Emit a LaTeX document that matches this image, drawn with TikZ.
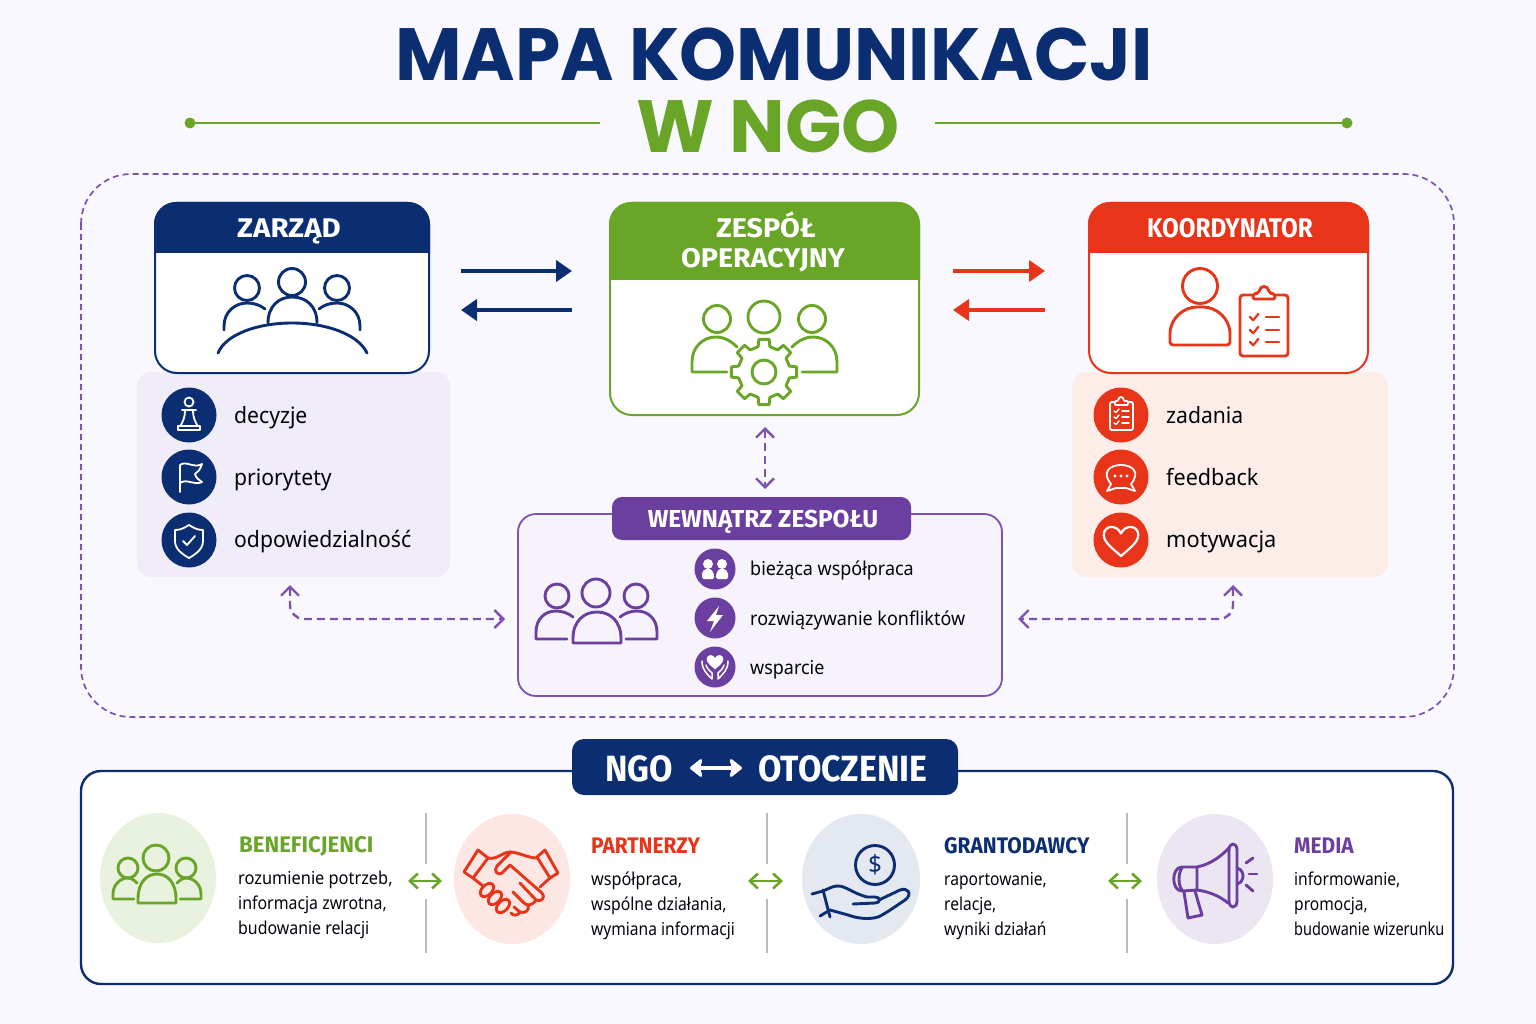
\documentclass[tikz,border=0pt]{standalone}
\usepackage{fontspec}
\setmainfont{Noto Sans}[FakeStretch=0.94]
\newfontfamily\headf{Fira Sans}[FakeStretch=0.93]
\newfontfamily\titlef{Poppins}
\newfontfamily\bodyf{Noto Sans}[FakeStretch=0.875]
\usetikzlibrary{arrows.meta,calc,shapes.geometric}
\definecolor{navy}{HTML}{0B2E73}
\definecolor{grn}{HTML}{69A627}
\definecolor{rd}{HTML}{E8351A}
\definecolor{pur}{HTML}{6B3FA0}
\definecolor{purl}{HTML}{7C52B3}
\definecolor{bgc}{HTML}{F9F8FE}
\definecolor{panL}{HTML}{F0EDF9}
\definecolor{panR}{HTML}{FDEDE8}
\definecolor{panW}{HTML}{F6F3FC}
\definecolor{sepc}{HTML}{B9BBBD}
\newcommand\fs[1]{\fontsize{#1}{#1}\selectfont}
\newcommand\hsc[2]{\scalebox{#1}[1]{#2}}
\newcommand\bust[5]{\draw[#1] ({#2-#4},#3) -- ({#2-#4},{#3-0.15*(#3-#5)}) .. controls ({#2-#4},{#5+0.3*(#3-#5)}) and ({#2-0.55*#4},#5) .. (#2,#5) .. controls ({#2+0.55*#4},#5) and ({#2+#4},{#5+0.3*(#3-#5)}) .. ({#2+#4},{#3-0.15*(#3-#5)}) -- ({#2+#4},#3) -- cycle;}
\newcommand\chk[4]{\draw[#1] ({#2-#4},#3) -- ({#2-0.2*#4},{#3+0.8*#4}) -- ({#2+1.1*#4},{#3-0.8*#4});}
\newcommand\heartp[5]{\draw[#1] (#2,{#3+#4}) .. controls ({#2-0.5*#4},{#3+0.55*#4}) and ({#2-1.15*#4},{#3+0.1*#4}) .. ({#2-1.15*#4},{#3-0.4*#4}) .. controls ({#2-1.15*#4},{#3-1.05*#4}) and ({#2-0.3*#4},{#3-1.15*#4}) .. (#2,{#3-0.5*#4}) .. controls ({#2+0.3*#4},{#3-1.15*#4}) and ({#2+1.15*#4},{#3-1.05*#4}) .. ({#2+1.15*#4},{#3-0.4*#4}) .. controls ({#2+1.15*#4},{#3+0.1*#4}) and ({#2+0.5*#4},{#3+0.55*#4}) .. (#2,{#3+#4}) -- cycle;}
\tikzset{
  x=1pt,y=-1pt,
  card/.style={draw=#1,line width=2pt,fill=white,rounded corners=22pt,inner sep=0,outer sep=0,anchor=north west},
  icon/.style={draw=#1,line width=2.9pt,line cap=round,line join=round},
  wicon/.style={draw=white,line width=1.8pt,line cap=round,line join=round},
  hd/.style={text=white,anchor=base,inner sep=0,font=\headf\bfseries\fs{27}},
  item/.style={text=black!90!navy,anchor=base west,inner sep=0,font=\fs{22.5}},
  pitem/.style={text=black!90!navy,anchor=base west,inner sep=0,font=\fs{19.1}},
  bhead/.style={text=#1,anchor=base west,inner sep=0,font=\headf\bfseries\fs{22.5}},
  bline/.style={text=black!90!navy,anchor=base west,inner sep=0,font=\bodyf\fs{17.8}},
  disc/.style={circle,fill=#1,minimum size=55pt,inner sep=0},
  pdisc/.style={circle,fill=pur,minimum size=41pt,inner sep=0},
  blob/.style={ellipse,fill=#1,inner sep=0},
  sep/.style={draw=sepc,line width=1.8pt},
  solidarr/.style={draw=#1,line width=4pt,-{Triangle[length=16pt,width=21pt]}},
  dasharr/.style={draw=purl,line width=2.4pt,dash pattern=on 8pt off 5pt,{Straight Barb[length=9pt,width=18pt,line width=2.4pt]}-{Straight Barb[length=9pt,width=18pt,line width=2.4pt]}},
  grarr/.style={draw=grn,line width=2.6pt,{Straight Barb[length=8pt,width=15pt,line width=2.6pt]}-{Straight Barb[length=8pt,width=15pt,line width=2.6pt]}},
}
\begin{document}
\begin{tikzpicture}
\useasboundingbox (0,0) rectangle (1536,1024);
\fill[bgc] (0,0) rectangle (1536,1024);
% title
\node[anchor=base,inner sep=0,text=navy,font=\titlef\bfseries\fs{74}] (title1) at (774,81) {\hsc{0.98}{MAPA KOMUNIKACJI}};
\node[anchor=base,inner sep=0,text=grn,font=\titlef\bfseries\fs{74}] (title2) at (768,153) {W NGO};
\coordinate (tl1) at (190,123); \coordinate (tl2) at (600,123);
\coordinate (tr1) at (935,123); \coordinate (tr2) at (1347,123);
\draw[grn,line width=2.2pt] (tl1) -- (tl2); \draw[grn,line width=2.2pt] (tr1) -- (tr2);
\fill[grn] (tl1) circle (5.5); \fill[grn] (tr2) circle (5.5);
% dashed frame
\draw[purl,line width=1.7pt,dash pattern=on 6pt off 4pt,rounded corners=50pt] (81,174) rectangle (1454,717);
% panels
\node[fill=panL,rounded corners=14pt,inner sep=0,outer sep=0,minimum width=313pt,minimum height=205pt,anchor=north west] (panL) at (137,372) {};
\node[fill=panR,rounded corners=14pt,inner sep=0,outer sep=0,minimum width=316pt,minimum height=205pt,anchor=north west] (panR) at (1072,372) {};
% cards
\node[card=navy,minimum width=274pt,minimum height=170pt] (zarzad) at (155,203) {};
\fill[navy] (154,253) [rounded corners=22pt] -- (154,202) -- (430,202) [sharp corners] -- (430,253) -- cycle;
\node[hd] (tz) at (289,238) {\hsc{1.17}{ZARZĄD}};
\node[card=grn,minimum width=309pt,minimum height=212pt] (zespol) at (610,203) {};
\fill[grn] (609,280) [rounded corners=22pt] -- (609,202) -- (920,202) [sharp corners] -- (920,280) -- cycle;
\node[hd] (tzo1) at (766,238) {\hsc{1.14}{ZESPÓŁ}};
\node[hd] (tzo2) at (763,268) {\hsc{1.14}{OPERACYJNY}};
\node[card=rd,minimum width=279pt,minimum height=170pt] (koord) at (1089,203) {};
\fill[rd] (1088,253) [rounded corners=22pt] -- (1088,202) -- (1369,202) [sharp corners] -- (1369,253) -- cycle;
\node[hd] (tk) at (1230,238) {\hsc{0.965}{KOORDYNATOR}};
% zarzad icon
\begin{scope}[icon=navy]
\draw (247,288) circle (12.5); \draw (292,282) circle (13.5); \draw (337,288) circle (12.5);
\draw (268,323) .. controls (268,306) and (279,297) .. (292,297) .. controls (306,297) and (317,306) .. (317,323);
\draw (224,330) -- (224,326) .. controls (224,312) and (235,303) .. (247,303) .. controls (254,303) and (260,305) .. (265,309);
\draw (360,330) -- (360,326) .. controls (360,312) and (349,303) .. (337,303) .. controls (330,303) and (324,305) .. (319,309);
\draw (218,353) .. controls (226,334) and (258,323) .. (292,323) .. controls (326,323) and (358,334) .. (367,353);
\end{scope}
% zespol icon
\begin{scope}[icon=grn]
\draw (717,319) circle (13.5); \draw (764,317) circle (16); \draw (812,319) circle (13.5);
\draw (727,372) -- (692,372) -- (692,362) .. controls (692,347) and (703,337) .. (716,337) .. controls (724,337) and (731,341) .. (737,347);
\draw (802,372) -- (837,372) -- (837,362) .. controls (837,347) and (826,337) .. (813,337) .. controls (805,337) and (798,341) .. (792,347);
\begin{scope}[shift={(764,372)}]
\draw ({-13}:26) \foreach \i in {0,...,7} { -- ({\i*45-13}:26) -- ({\i*45-9}:33) -- ({\i*45+9}:33) -- ({\i*45+13}:26) } -- cycle;
\draw (0,0) circle (12);
\end{scope}
\end{scope}
% koord icon
\begin{scope}[icon=rd]
\draw (1200,286) circle (17.5);
\draw[rounded corners=3pt] (1170,345) -- (1170,337) .. controls (1170,318) and (1184,307) .. (1200,307) .. controls (1216,307) and (1230,318) .. (1230,337) -- (1230,345) -- cycle;
\draw[rounded corners=3pt] (1240,295) rectangle (1288,356);
\draw[fill=white,rounded corners=2pt] (1253,299) -- (1253,294) -- (1259,293) .. controls (1260,285) and (1268,285) .. (1269,293) -- (1275,294) -- (1275,299) -- cycle;
\foreach \yy in {317,330,342}{
 \chk{icon=rd,line width=2.2pt}{1254}{\yy}{4}
 \draw (1266,\yy) -- (1279,\yy);}
\end{scope}
% left discs
\node[disc=navy] (d1) at (189,415) {};
\node[disc=navy] (d2) at (189,477) {};
\node[disc=navy] (d3) at (189,540) {};
\node[item] (i1) at (234,423) {decyzje};
\node[item] (i2) at (234,485) {priorytety};
\node[item] (i3) at (234,547) {odpowiedzialność};
\begin{scope}[wicon]
\draw (189,402) circle (4.5);
\draw (182,410) -- (196,410);
\draw (185,411) .. controls (185,417) and (183,421) .. (181,425);
\draw (193,411) .. controls (193,417) and (195,421) .. (197,425);
\draw (178,426) rectangle (200,430);
\draw (180,492) -- (180,465) .. controls (186,460) and (194,469) .. (202,464) .. controls (200,470) and (198,472) .. (195,474) .. controls (196,478) and (199,480) .. (202,482) .. controls (194,486) and (187,478) .. (180,483);
\draw (189,525) .. controls (183,529) and (179,530) .. (175,530) -- (175,541) .. controls (175,549) and (182,554) .. (189,558) .. controls (196,554) and (203,549) .. (203,541) -- (203,530) .. controls (199,530) and (195,529) .. (189,525) -- cycle;
\draw (183,541) -- (187,545) -- (195,536);
\end{scope}
% right discs
\node[disc=rd] (e1) at (1121,415) {};
\node[disc=rd] (e2) at (1121,477) {};
\node[disc=rd] (e3) at (1121,540) {};
\node[item] (j1) at (1166,423) {zadania};
\node[item] (j2) at (1166,485) {\hsc{1.02}{feedback}};
\node[item] (j3) at (1166,547) {\hsc{1.03}{motywacja}};
\begin{scope}[wicon]
\draw[rounded corners=1.5pt] (1110,402) rectangle (1133,430);
\draw[rounded corners=1pt,fill=rd] (1115,405) -- (1115,401) -- (1118,401) .. controls (1119,396) and (1123,396) .. (1124,401) -- (1128,401) -- (1128,405) -- cycle;
\foreach \yy in {411,417,423}{
\draw[line width=1.4pt] (1114,\yy) -- (1116,{\yy+1.5}) -- (1119,{\yy-2});
\draw[line width=1.4pt] (1122,\yy) -- (1129,\yy);}
\draw (1111,484) .. controls (1101,472) and (1110,465) .. (1121,465) .. controls (1132,465) and (1141,472) .. (1131,484) -- (1135,491) -- (1126,488) -- (1116,488) -- (1107,491) -- cycle;
\fill[white] (1115,476) circle (1.6) (1121,476) circle (1.6) (1127,476) circle (1.6);
\heartp{wicon,line width=2.2pt}{1121}{541}{15}{}
\end{scope}
% wewnatrz
\node[draw=purl,line width=1.8pt,fill=panW,rounded corners=18pt,inner sep=0,outer sep=0,minimum width=484pt,minimum height=182pt,anchor=north west] (wew) at (518,514) {};
\node[fill=pur,rounded corners=10pt,inner sep=0,outer sep=0,minimum width=299pt,minimum height=43pt,anchor=north west] (wewh) at (612,497) {};
\node[hd,font=\headf\bfseries\fs{24.5}] (twew) at (763,527) {\hsc{1.07}{WEWNĄTRZ ZESPOŁU}};
\begin{scope}[icon=pur]
\draw (557,596) circle (12); \draw (596,593) circle (14); \draw (636,596) circle (12);
\bust{icon=pur}{597}{643}{24}{612}
\draw (567,639) -- (536,639) -- (536,632) .. controls (536,619) and (545,611) .. (556,611) .. controls (562,611) and (568,613) .. (573,617);
\draw (626,639) -- (657,639) -- (657,632) .. controls (657,619) and (648,611) .. (637,611) .. controls (631,611) and (625,613) .. (620,617);
\end{scope}
\node[pdisc] (f1) at (715,569) {};
\node[pdisc] (f2) at (715,618) {};
\node[pdisc] (f3) at (715,667) {};
\node[pitem] (k1) at (750,575) {bieżąca współpraca};
\node[pitem] (k2) at (750,625) {rozwiązywanie konfliktów};
\node[pitem] (k3) at (750,674) {wsparcie};
\fill[white] (708,564) circle (5) (722,564) circle (5);
\fill[white,rounded corners=1.5pt] (702,579) -- (702,575) .. controls (702,571) and (705,569) .. (708,569) .. controls (711,569) and (713,571) .. (714,575) -- (714,579) -- cycle;
\fill[white,rounded corners=1.5pt] (716,579) -- (716,575) .. controls (717,571) and (719,569) .. (722,569) .. controls (725,569) and (728,571) .. (728,575) -- (728,579) -- cycle;
\fill[white] (719,606) -- (707,621) -- (714,621) -- (710,632) -- (723,615) -- (716,615) -- cycle;
\heartp{fill=white,draw=white,line width=0.5pt}{715}{662}{7}{}
\begin{scope}[wicon,line width=1.5pt]
\draw (702,661) .. controls (702,670) and (707,674) .. (712,679) -- (712,673) .. controls (710,671) and (707,669) .. (706,665);
\draw (728,661) .. controls (728,670) and (723,674) .. (718,679) -- (718,673) .. controls (720,671) and (723,669) .. (724,665);
\end{scope}
% connectors
\coordinate (yU) at (0,271); \coordinate (yL) at (0,310);
\draw[solidarr=navy,shorten <=32pt,shorten >=38pt] (zarzad.east |- yU) -- (zespol.west |- yU);
\draw[solidarr=navy,shorten <=38pt,shorten >=32pt] (zespol.west |- yL) -- (zarzad.east |- yL);
\draw[solidarr=rd,shorten <=34pt,shorten >=44pt] (zespol.east |- yU) -- (koord.west |- yU);
\draw[solidarr=rd,shorten <=44pt,shorten >=34pt] (koord.west |- yL) -- (zespol.east |- yL);
\draw[dasharr,shorten <=12pt,shorten >=8pt] ([xshift=0.5pt]zespol.south) -- ([xshift=0.5pt]zespol.south |- wewh.north);
\coordinate (pl) at ([xshift=-3.5pt,yshift=-8pt]panL.south);
\coordinate (wl) at ([xshift=-13pt,yshift=-14pt]wew.west);
\draw[dasharr,rounded corners=14pt] (pl) |- (wl);
\coordinate (pr) at ([xshift=3pt,yshift=-8pt]panR.south);
\coordinate (wr) at ([xshift=16pt,yshift=-14pt]wew.east);
\draw[dasharr,rounded corners=14pt] (pr) |- (wr);
% bottom
\node[draw=navy,line width=2.4pt,fill=white,rounded corners=20pt,inner sep=0,outer sep=0,minimum width=1372pt,minimum height=213pt,anchor=north west] (bot) at (81,771) {};
\node[fill=navy,rounded corners=12pt,inner sep=0,outer sep=0,minimum width=386pt,minimum height=56pt,anchor=north west] (both) at (572,739) {};
\node[hd,font=\headf\bfseries\fs{36.5}] (b1) at (639,781) {NGO};
\node[hd,font=\headf\bfseries\fs{36.5}] (b2) at (843,781) {OTOCZENIE};
\coordinate (ba) at (690,768); \coordinate (bb) at (742,768);
\draw[white,line width=4.5pt,{Stealth[round,length=14pt,width=22pt,inset=3pt]}-{Stealth[round,length=14pt,width=22pt,inset=3pt]}] (ba) -- (bb);
\node[blob=grn!15,minimum width=116pt,minimum height=130pt] (o1) at (158,878) {};
\node[blob=rd!12,minimum width=116pt,minimum height=130pt] (o2) at (512,879) {};
\node[blob=navy!11,minimum width=118pt,minimum height=130pt] (o3) at (861,879) {};
\node[blob=pur!13,minimum width=116pt,minimum height=130pt] (o4) at (1215,879) {};
\foreach \xx in {426,767,1127}{
 \draw[sep] (\xx,813) -- (\xx,864);
 \draw[sep] (\xx,899) -- (\xx,953);}
\foreach \xa/\xb/\nm in {408/442/ga,748/783/gb,1108/1142/gc}{
 \coordinate (\nm1) at (\xa,881); \coordinate (\nm2) at (\xb,881);
 \draw[grarr] (\nm1) -- (\nm2);}
\node[bhead=grn] (h1) at (239,852) {\hsc{1.06}{BENEFICJENCI}};
\node[bhead=rd] (h2) at (591,853) {PARTNERZY};
\node[bhead=navy] (h3) at (944,853) {GRANTODAWCY};
\node[bhead=pur] (h4) at (1294,853) {MEDIA};
\node[bline] (l11) at (238,884) {\hsc{1.05}{rozumienie potrzeb,}};
\node[bline] (l12) at (238,909) {\hsc{1.02}{informacja zwrotna,}};
\node[bline] (l13) at (238,934) {\hsc{1.02}{budowanie relacji}};
\node[bline] (l21) at (591,885) {\hsc{1.04}{współpraca,}};
\node[bline] (l22) at (591,910) {\hsc{1.01}{wspólne działania,}};
\node[bline] (l23) at (591,935) {wymiana informacji};
\node[bline] (l31) at (944,885) {raportowanie,};
\node[bline] (l32) at (944,910) {relacje,};
\node[bline] (l33) at (944,935) {wyniki działań};
\node[bline] (l41) at (1294,885) {informowanie,};
\node[bline] (l42) at (1294,910) {promocja,};
\node[bline] (l43) at (1294,935) {\hsc{0.93}{budowanie wizerunku}};
% beneficjenci icon
\begin{scope}[icon=grn]
\draw (156,858) circle (13); \draw (128,868) circle (10); \draw (186,868) circle (10);
\bust{icon=grn}{157}{903}{19}{874}
\draw (134,899) -- (113,899) -- (113,894) .. controls (113,885) and (120,878) .. (128,878) .. controls (131,878) and (134,880) .. (137,883);
\draw (180,899) -- (201,899) -- (201,894) .. controls (201,885) and (194,878) .. (186,878) .. controls (183,878) and (180,880) .. (177,883);
\end{scope}
% handshake
\begin{scope}[icon=rd]
\draw (478,850) -- (488,858) -- (473,878) -- (464,872) -- cycle;
\draw (545,850) -- (537,857) -- (550,878) -- (558,873) -- cycle;
\draw (488,858) .. controls (497,860) and (503,852) .. (510,852) .. controls (518,852) and (528,858) .. (537,858);
\draw (511,852) -- (497,866) .. controls (493,871) and (498,877) .. (503,872) -- (510,865) -- (542,893) .. controls (546,897) and (541,903) .. (536,900) -- (520,883);
\draw (536,900) .. controls (532,906) and (527,906) .. (524,903) -- (513,892);
\draw (528,905) .. controls (530,910) and (525,914) .. (520,912) -- (514,907);
\draw (520,912) .. controls (518,916) and (513,916) .. (511,913);
\draw (550,878) -- (540,887);
\draw (473,878) -- (483,886);
\draw[rotate around={45:(487,890)}] (487,890) ellipse (8 and 5);
\draw[rotate around={45:(495,898)}] (495,898) ellipse (8 and 5);
\draw[rotate around={45:(503,906)}] (503,906) ellipse (8 and 5);
\end{scope}
% grant hand
\begin{scope}[icon=navy]
\draw (875,865) circle (19.5);
\draw (812,894) -- (823,891) .. controls (830,888) and (833,886) .. (838,886) .. controls (846,886) and (852,893) .. (867,897) -- (875,897) .. controls (881,897) and (881,903) .. (875,903) -- (853,904);
\draw (879,900) -- (900,890) .. controls (908,887) and (913,894) .. (905,900) .. controls (896,906) and (885,914) .. (878,917) .. controls (868,920) and (856,918) .. (848,915) -- (830,910) -- (820,916);
\draw (823,890) -- (830,917);
\end{scope}
\node[inner sep=0,text=navy,anchor=center,font=\fs{25}] (dollar) at (875,865) {\$};
% megaphone
\begin{scope}[icon=pur]
\draw (1197,867) -- (1182,867) .. controls (1171,867) and (1171,891) .. (1182,891) -- (1197,890) -- cycle;
\draw (1182,868) .. controls (1178,873) and (1178,885) .. (1182,890);
\draw (1197,867) .. controls (1212,864) and (1222,855) .. (1229,848);
\draw (1197,890) .. controls (1212,892) and (1222,898) .. (1228,903);
\draw (1237,850) .. controls (1237,842) and (1229,842) .. (1229,850) -- (1229,901) .. controls (1229,909) and (1237,909) .. (1237,901) -- cycle;
\draw (1237,868) .. controls (1245,870) and (1245,882) .. (1237,884);
\draw (1184,892) -- (1188,918) -- (1202,915) -- (1195,891);
\draw (1246,863) -- (1253,858); \draw (1249,874) -- (1257,874); \draw (1246,885) -- (1253,891);
\end{scope}
\end{tikzpicture}
\end{document}
